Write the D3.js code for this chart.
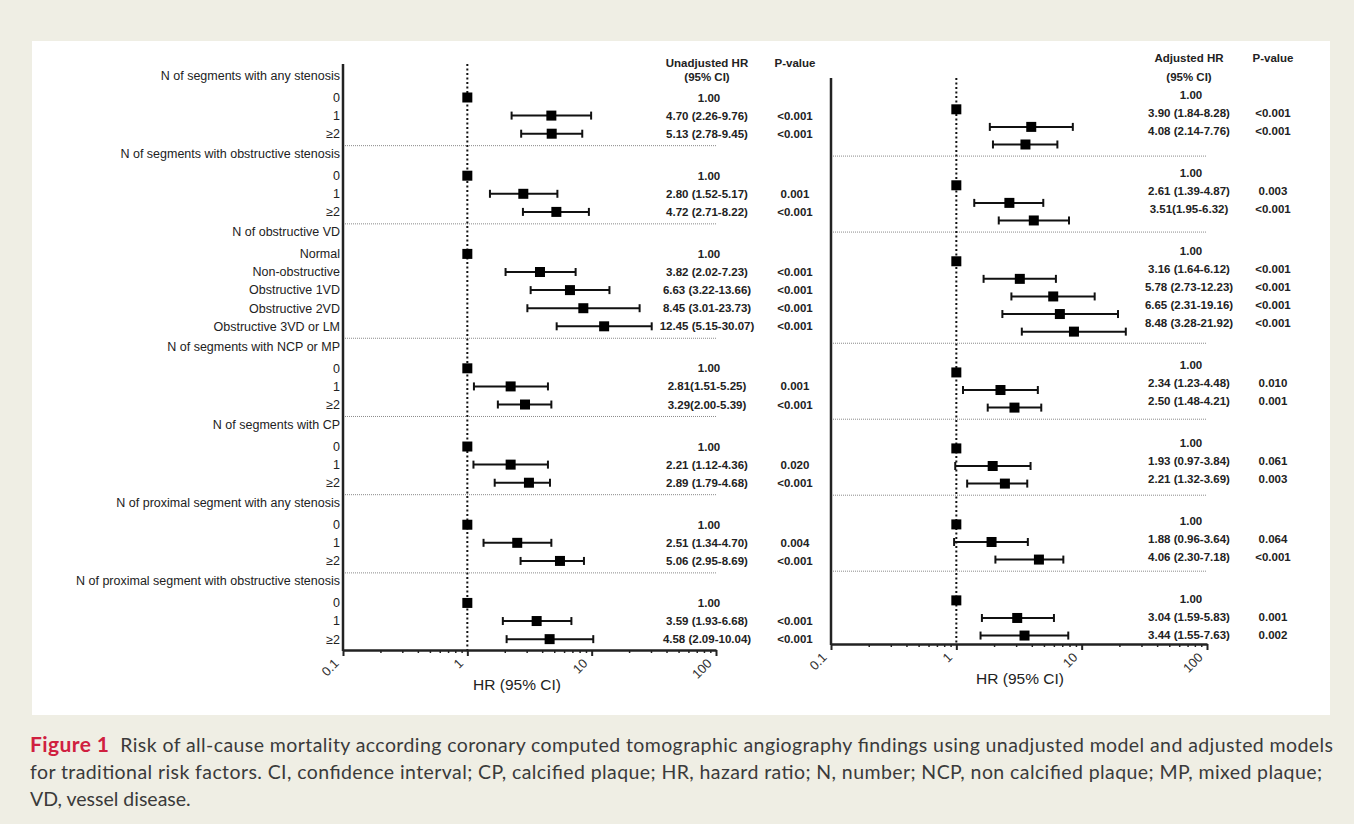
<!DOCTYPE html>
<html>
<head>
<meta charset="utf-8">
<script src="https://cdn.jsdelivr.net/npm/d3@7"></script>
<style>
  body { margin: 0; background: #efeee4; }
  svg { display: block; }
  .lbl { font-family: Arial, "Liberation Sans", sans-serif; font-size: 12.5px; fill: #222; }
  .num { font-family: Arial, "Liberation Sans", sans-serif; font-size: 11.5px; font-weight: bold; fill: #222; }
  .tick text { font-family: Arial, "Liberation Sans", sans-serif; font-size: 13px; fill: #333; }
  .atitle { font-family: Arial, "Liberation Sans", sans-serif; font-size: 15.5px; fill: #222; }
  .cap { font-family: Lato, "Open Sans", sans-serif; font-size: 19.5px; fill: #3a3a3a; }
</style>
</head>
<body>
<svg id="chart" width="1354" height="824"></svg>
<script>
// group titles and row labels
var groups = [
	"N of segments with any stenosis",
	"N of segments with obstructive stenosis",
	"N of obstructive VD",
	"N of segments with NCP or MP",
	"N of segments with CP",
	"N of proximal segment with any stenosis",
	"N of proximal segment with obstructive stenosis"
];
var rowLabels = [
	["0", "1", "\u22652"],
	["0", "1", "\u22652"],
	["Normal", "Non-obstructive", "Obstructive 1VD", "Obstructive 2VD", "Obstructive 3VD or LM"],
	["0", "1", "\u22652"],
	["0", "1", "\u22652"],
	["0", "1", "\u22652"],
	["0", "1", "\u22652"]
];

// unadjusted model, as plotted
var unadjHR = [[1, 4.74, 4.77], [1, 2.82, 5.2], [1, 3.84, 6.69, 8.57, 12.6], [1, 2.23, 2.91], [1, 2.23, 3.13], [1, 2.52, 5.56], [1, 3.61, 4.59]];
var unadjLo = [[null, 2.27, 2.71], [null, 1.52, 2.8], [null, 2.03, 3.23, 3.04, 5.23], [null, 1.13, 1.76], [null, 1.12, 1.66], [null, 1.35, 2.68], [null, 1.93, 2.07]];
var unadjHi = [[null, 9.9, 8.4], [null, 5.3, 9.5], [null, 7.43, 13.9, 24.3, 30.4], [null, 4.45, 4.74], [null, 4.45, 4.62], [null, 4.74, 8.67], [null, 6.87, 10.3]];
var unadjText = [
	["1.00", "4.70 (2.26-9.76)", "5.13 (2.78-9.45)"],
	["1.00", "2.80 (1.52-5.17)", "4.72 (2.71-8.22)"],
	["1.00", "3.82 (2.02-7.23)", "6.63 (3.22-13.66)", "8.45 (3.01-23.73)", "12.45 (5.15-30.07)"],
	["1.00", "2.81(1.51-5.25)", "3.29(2.00-5.39)"],
	["1.00", "2.21 (1.12-4.36)", "2.89 (1.79-4.68)"],
	["1.00", "2.51 (1.34-4.70)", "5.06 (2.95-8.69)"],
	["1.00", "3.59 (1.93-6.68)", "4.58 (2.09-10.04)"]
];
var unadjP = [
	["", "<0.001", "<0.001"],
	["", "0.001", "<0.001"],
	["", "<0.001", "<0.001", "<0.001", "<0.001"],
	["", "0.001", "<0.001"],
	["", "0.020", "<0.001"],
	["", "0.004", "<0.001"],
	["", "<0.001", "<0.001"]
];

// adjusted model, as plotted
var adjHR = [[1, 3.96, 3.56], [1, 2.65, 4.15], [1, 3.21, 5.93, 6.7, 8.68], [1, 2.25, 2.91], [1, 1.95, 2.44], [1, 1.91, 4.56], [1, 3.06, 3.5]];
var adjLo = [[null, 1.85, 1.96], [null, 1.39, 2.18], [null, 1.65, 2.75, 2.33, 3.33], [null, 1.13, 1.78], [null, 0.98, 1.22], [null, 0.96, 2.05], [null, 1.6, 1.56]];
var adjHi = [[null, 8.5, 6.4], [null, 4.94, 7.92], [null, 6.23, 12.7, 19.5, 22.5], [null, 4.47, 4.76], [null, 3.91, 3.68], [null, 3.72, 7.14], [null, 6.01, 7.82]];
var adjText = [
	["1.00", "3.90 (1.84-8.28)", "4.08 (2.14-7.76)"],
	["1.00", "2.61 (1.39-4.87)", "3.51(1.95-6.32)"],
	["1.00", "3.16 (1.64-6.12)", "5.78 (2.73-12.23)", "6.65 (2.31-19.16)", "8.48 (3.28-21.92)"],
	["1.00", "2.34 (1.23-4.48)", "2.50 (1.48-4.21)"],
	["1.00", "1.93 (0.97-3.84)", "2.21 (1.32-3.69)"],
	["1.00", "1.88 (0.96-3.64)", "4.06 (2.30-7.18)"],
	["1.00", "3.04 (1.59-5.83)", "3.44 (1.55-7.63)"]
];
var adjP = [
	["", "<0.001", "<0.001"],
	["", "0.003", "<0.001"],
	["", "<0.001", "<0.001", "<0.001", "<0.001"],
	["", "0.010", "0.001"],
	["", "0.061", "0.003"],
	["", "0.064", "<0.001"],
	["", "0.001", "0.002"]
];

var xTicks = [0.1, 1, 10, 100];

// flatten into rows with a vertical position (slot + extra gap per group)
var groupGap = 0.32;
var lastPos = 29 + 6 * groupGap;
function buildRows(hr, lo, hi, txt, p) {
	var rows = [], headers = [], seps = [];
	var slot = 0;
	groups.forEach(function(g, gi) {
		headers.push({ label: g, pos: slot + gi * groupGap });
		slot++;
		rowLabels[gi].forEach(function(l, ri) {
			rows.push({
				label: l, pos: slot + gi * groupGap,
				hr: hr[gi][ri], lo: lo[gi][ri], hi: hi[gi][ri],
				txt: txt[gi][ri], p: p[gi][ri]
			});
			slot++;
		});
		if (gi < groups.length - 1) {
			seps.push(slot - 1 + gi * groupGap + (1 + groupGap) / 2);
		}
	});
	return { rows: rows, headers: headers, seps: seps };
}

var svg = d3.select("#chart");

svg.append("rect").attr("x", 0).attr("y", 0).attr("width", 1354).attr("height", 824).attr("fill", "#efeee4");
svg.append("rect").attr("x", 32).attr("y", 41).attr("width", 1298).attr("height", 674).attr("fill", "#ffffff");

function drawPanel(cfg) {
	var data = buildRows(cfg.hr, cfg.lo, cfg.hi, cfg.txt, cfg.p);
	var g = svg.append("g");

	var x = d3.scaleLog().domain([0.1, 100]).range([cfg.x0, cfg.x1]);
	var y = d3.scaleLinear().domain(cfg.yDomain).range([cfg.yTop, cfg.yBottom]);
	var yTxt = cfg.yText ? d3.scaleLinear().domain([1, lastPos]).range(cfg.yText) : y;

	// group separators
	g.selectAll(".sep").data(data.seps).enter().append("line")
		.attr("x1", cfg.x0).attr("x2", cfg.x1)
		.attr("y1", function(d) { return y(d); })
		.attr("y2", function(d) { return y(d); })
		.attr("stroke", "#8a8a8a").attr("stroke-width", 1)
		.attr("stroke-dasharray", "1,1");

	// reference line at HR = 1
	g.append("line")
		.attr("x1", x(1)).attr("x2", x(1))
		.attr("y1", cfg.yTop).attr("y2", cfg.yBottom)
		.attr("stroke", "#111").attr("stroke-width", 2)
		.attr("stroke-dasharray", "2,2.5");

	// y axis line
	g.append("line")
		.attr("x1", cfg.x0).attr("x2", cfg.x0)
		.attr("y1", cfg.yTop).attr("y2", cfg.yBottom + 1)
		.attr("stroke", "#222").attr("stroke-width", 2.5);

	// x axis: minor ticks then majors
	var minors = [];
	[0.1, 1, 10].forEach(function(d) {
		for (var k = 2; k <= 9; k++) { minors.push(d * k); }
	});
	g.append("g")
		.attr("transform", "translate(0," + cfg.yBottom + ")")
		.call(d3.axisBottom(x).tickValues(minors).tickSize(3).tickFormat(""))
		.call(function(a) {
			a.select(".domain").remove();
			a.selectAll("line").attr("stroke", "#222").attr("stroke-width", 1.5);
		});
	var xa = g.append("g")
		.attr("transform", "translate(0," + cfg.yBottom + ")")
		.call(d3.axisBottom(x).tickValues(xTicks).tickSize(6).tickSizeOuter(0)
			.tickFormat(function(d) { return d3.format("~g")(d); }));
	xa.select(".domain").attr("stroke", "#222").attr("stroke-width", 2.5);
	xa.selectAll("line").attr("stroke", "#222").attr("stroke-width", 2);
	xa.selectAll("text")
		.attr("x", 0).attr("y", 0)
		.attr("text-anchor", "end")
		.attr("dy", "0.35em")
		.attr("transform", "translate(-7,11) rotate(-45)");

	g.append("text").attr("class", "atitle")
		.attr("x", cfg.titleX).attr("y", cfg.yBottom + 40)
		.attr("text-anchor", "middle")
		.text("HR (95% CI)");

	// row labels (left panel only)
	if (cfg.labels) {
		g.selectAll(".hdr").data(data.headers).enter().append("text")
			.attr("class", "lbl")
			.attr("x", cfg.x0 - 3)
			.attr("y", function(d) { return y(d.pos) - 4; })
			.attr("dy", "0.35em")
			.attr("text-anchor", "end")
			.text(function(d) { return d.label; });
		g.selectAll(".rl").data(data.rows).enter().append("text")
			.attr("class", "lbl")
			.attr("x", cfg.x0 - 3)
			.attr("y", function(d) { return y(d.pos); })
			.attr("dy", "0.35em")
			.attr("text-anchor", "end")
			.text(function(d) { return d.label; });
	}

	// CI whiskers
	var ci = data.rows.filter(function(d) { return d.lo !== null; });
	g.selectAll(".ci").data(ci).enter().append("line")
		.attr("x1", function(d) { return x(d.lo); })
		.attr("x2", function(d) { return x(d.hi); })
		.attr("y1", function(d) { return y(d.pos); })
		.attr("y2", function(d) { return y(d.pos); })
		.attr("stroke", "#111").attr("stroke-width", 2);
	["lo", "hi"].forEach(function(k) {
		g.selectAll(".cap" + k).data(ci).enter().append("line")
			.attr("x1", function(d) { return x(d[k]); })
			.attr("x2", function(d) { return x(d[k]); })
			.attr("y1", function(d) { return y(d.pos) - 4; })
			.attr("y2", function(d) { return y(d.pos) + 4; })
			.attr("stroke", "#111").attr("stroke-width", 2);
	});

	// point estimates
	g.selectAll(".pt").data(data.rows).enter().append("rect")
		.attr("x", function(d) { return x(d.hr) - 5; })
		.attr("y", function(d) { return y(d.pos) - 5; })
		.attr("width", 10).attr("height", 10)
		.attr("fill", "#000");

	// HR text and p-values
	g.append("text").attr("class", "num").attr("x", cfg.hrX).attr("y", cfg.headY)
		.attr("text-anchor", "middle").text(cfg.head);
	g.append("text").attr("class", "num").attr("x", cfg.hrX).attr("y", cfg.headY + cfg.headGap)
		.attr("text-anchor", "middle").text("(95% CI)");
	g.append("text").attr("class", "num").attr("x", cfg.pX).attr("y", cfg.headY)
		.attr("text-anchor", "middle").text("P-value");

	g.selectAll(".hrt").data(data.rows).enter().append("text")
		.attr("class", "num")
		.attr("x", function(d) { return d.txt === "1.00" ? cfg.hrX + 2 : cfg.hrX; })
		.attr("y", function(d) { return yTxt(d.pos); })
		.attr("dy", "0.35em")
		.attr("text-anchor", "middle")
		.text(function(d) { return d.txt; });
	g.selectAll(".pv").data(data.rows).enter().append("text")
		.attr("class", "num")
		.attr("x", cfg.pX)
		.attr("y", function(d) { return yTxt(d.pos); })
		.attr("dy", "0.35em")
		.attr("text-anchor", "middle")
		.text(function(d) { return d.p; });
}

drawPanel({
	hr: unadjHR, lo: unadjLo, hi: unadjHi, txt: unadjText, p: unadjP,
	x0: 343, x1: 716, yTop: 64, yBottom: 650, yDomain: [-0.85, 31.52],
	labels: true, titleX: 517,
	hrX: 707, pX: 795, head: "Unadjusted  HR", headY: 67, headGap: 14
});

drawPanel({
	hr: adjHR, lo: adjLo, hi: adjHi, txt: adjText, p: adjP,
	x0: 831, x1: 1207, yTop: 78, yBottom: 644, yDomain: [-0.78, 31.4],
	labels: false, titleX: 1020, yText: [95, 635],
	hrX: 1189, pX: 1273, head: "Adjusted  HR", headY: 62, headGap: 19
});

// caption
var capLines = [
	{ fig: "Figure 1", rest: "  Risk of all-cause mortality according coronary computed tomographic angiography findings using unadjusted model and adjusted models", w: 1303 },
	{ fig: "", rest: "for traditional risk factors. CI, confidence interval; CP, calcified plaque; HR, hazard ratio; N, number; NCP, non calcified plaque; MP, mixed plaque;", w: 1292 },
	{ fig: "", rest: "VD, vessel disease.", w: null }
];
capLines.forEach(function(l, i) {
	var t = svg.append("text").attr("class", "cap")
		.attr("x", 30).attr("y", 752 + i * 27)
		.attr("xml:space", "preserve");
	if (l.w) { t.attr("textLength", l.w).attr("lengthAdjust", "spacing"); }
	if (l.fig) {
		t.append("tspan").attr("font-weight", "bold").attr("font-size", "21px")
			.attr("fill", "#d0203f").text(l.fig);
	}
	t.append("tspan").text(l.rest);
});
</script>
</body>
</html>
